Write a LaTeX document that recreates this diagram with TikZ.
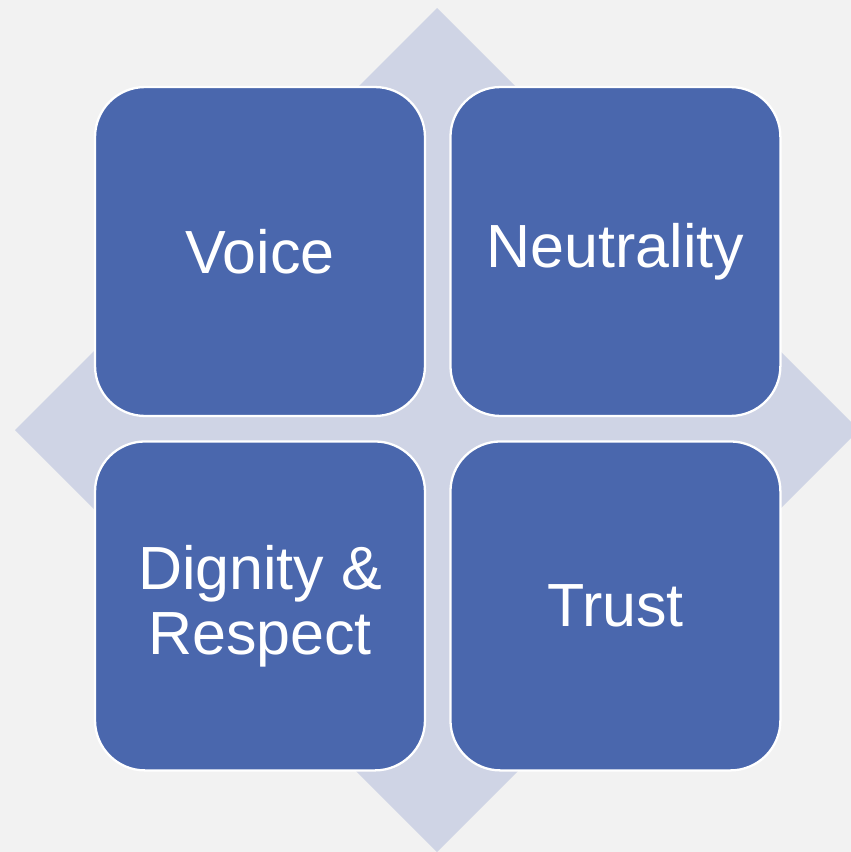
\documentclass[tikz,border=0pt]{standalone}
\usepackage{fontspec}
\setmainfont{Liberation Sans}
\usetikzlibrary{positioning}
\definecolor{bggray}{HTML}{F2F2F2}
\definecolor{diamondblue}{HTML}{CFD4E5}
\definecolor{boxblue}{HTML}{4A67AD}

\begin{document}
\begin{tikzpicture}[x=0.02cm, y=-0.02cm,
  box/.style={draw=white, line width=1.3pt, fill=boxblue, rounded corners=1cm,
    minimum width=6.6cm, minimum height=6.58cm, outer sep=0pt, text=white,
    align=center, font=\fontsize{34.7}{37}\selectfont},
  node distance=0.51cm]
\useasboundingbox (0,0) rectangle (851,852);
\fill[bggray] (0,0) rectangle (851,852);

% diamond behind the boxes
\fill[diamondblue] (437,8) -- (859,430) -- (437,852) -- (15,430) -- cycle;

\node[box] (voice) at (260,251.5) {Voice};
\node[box, right=of voice] (neutrality) {Neutrality};
\node[box, below=of voice] (dignity) {Dignity \&\\Respect};
\node[box, right=of dignity] (trust) {Trust};
\end{tikzpicture}
\end{document}
